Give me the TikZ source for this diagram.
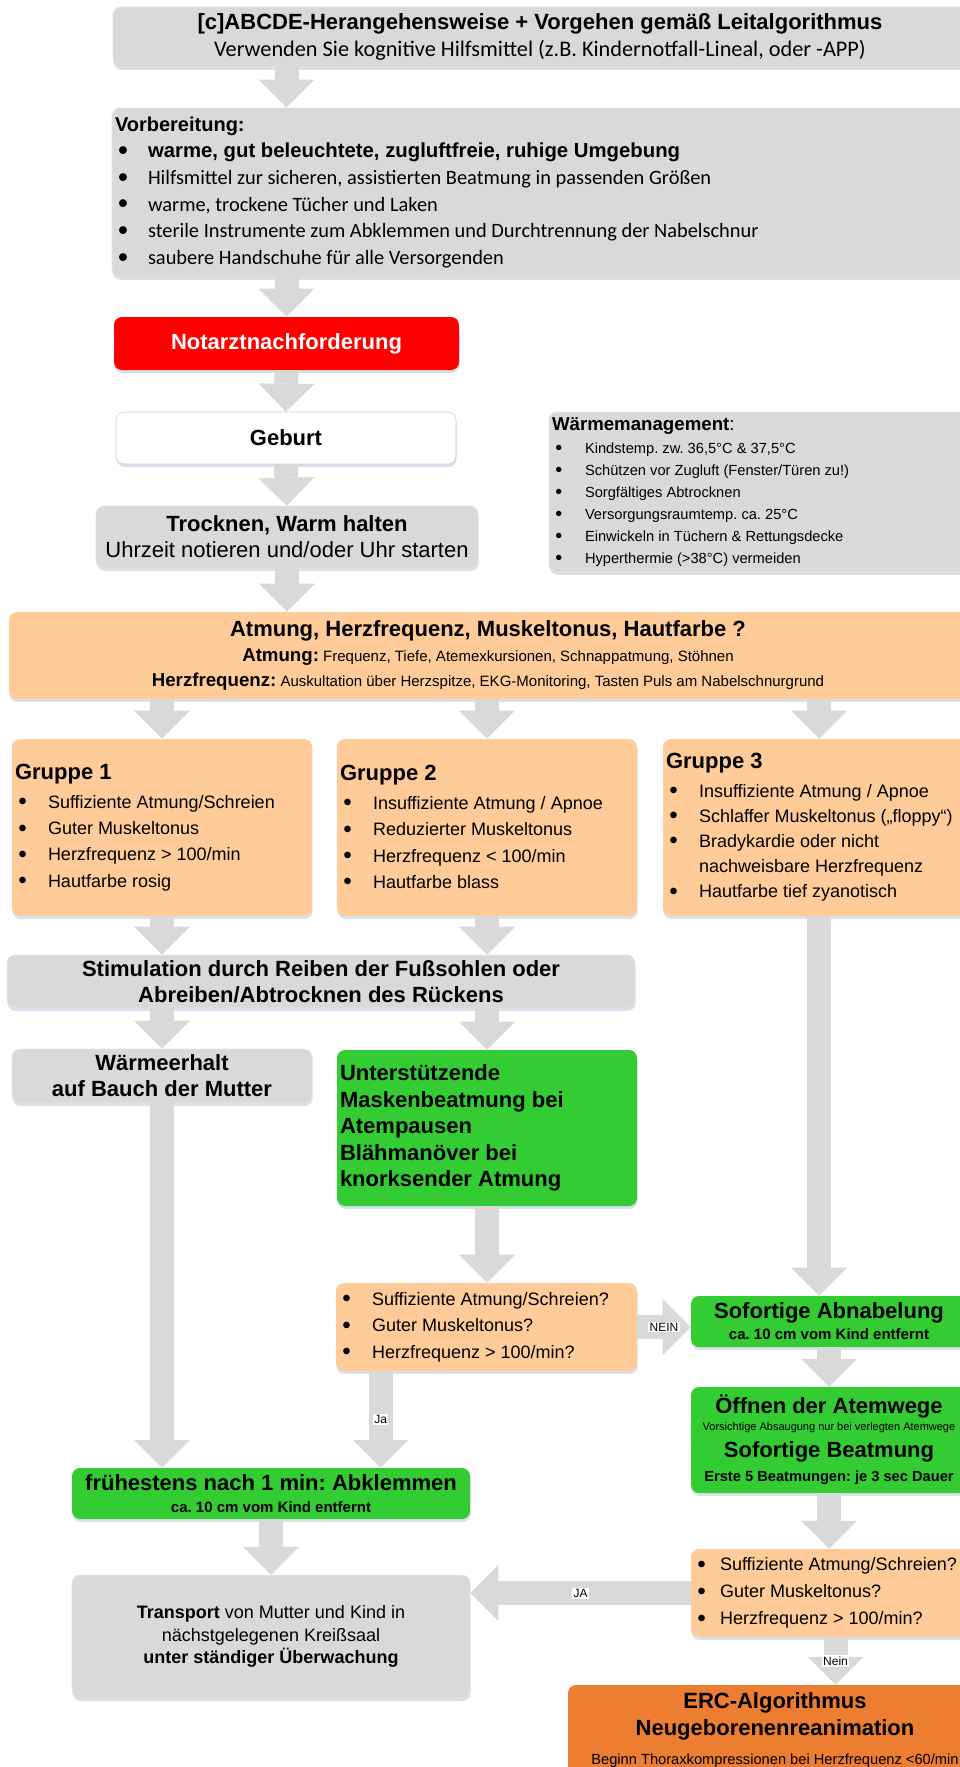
\documentclass[tikz,border=0pt]{standalone}
\usepackage{graphicx}
\usepackage{fontspec}
\setmainfont{Liberation Sans}
\newfontfamily\calibri{Carlito}
\usetikzlibrary{arrows.meta,calc,shadows}
\tikzset{>={Triangle[length=21pt,width=42pt,line width=0pt]}}
\frenchspacing

\definecolor{boxgrey}{HTML}{D9D9D9}
\definecolor{arrowgrey}{HTML}{D9D9D9}
\definecolor{lightorange}{HTML}{FFCC99}
\definecolor{okgreen}{HTML}{33CC33}
\definecolor{alarmred}{HTML}{FF0000}
\definecolor{ercorange}{HTML}{ED7D31}
\definecolor{shadowblue}{HTML}{C9D3E3}

% word spaces of the current font, without stretch
\newcommand\fixspace{\spaceskip=\fontdimen2\font\xspaceskip=0pt\relax}
% font sizes, 1px = 0.75pt
\newcommand\fs[2]{\fontsize{#1}{#2}\selectfont\fixspace}
\newcommand\fhead{\fs{16.5}{19.5}}
\newcommand\flist{\fs{13.5}{19.75}}
\newcommand\fsmall{\fs{11}{16.5}}
\newcommand\ftiny{\fs{8.25}{10}}
\newcommand\prepfont{\calibri\fs{15.3}{20}}
\newcommand\bul[1][24.75pt]{\makebox[#1][l]{\hspace{2.5pt}\raisebox{-0.08em}{\scalebox{1.35}{\textbullet}}}}
\tikzset{every node/.append style={execute at begin node=\fixspace}}

\tikzstyle{block}    =[rectangle,rounded corners=6pt,draw=none,
                       inner xsep=2.25pt,inner ysep=0pt,
                       drop shadow={shadow xshift=0.5pt,shadow yshift=-2.2pt,fill=shadowblue,opacity=0.7}]
\tikzstyle{greybox}  =[block,fill=boxgrey,draw=black!10,line width=0.4pt]
\tikzstyle{orangebox}=[block,fill=lightorange]
\tikzstyle{greenbox} =[block,fill=okgreen]
\tikzstyle{group}    =[orangebox,align=left,font=\flist,
                       minimum width=225pt,minimum height=132.75pt,text width=220.5pt]
\tikzstyle{bigarrow} =[->,draw=arrowgrey,line width=18pt]
\tikzstyle{tag}      =[fill=white,inner sep=1pt,font=\fs{9}{10}]

\begin{document}
\begin{tikzpicture}[x=0.75pt,y=-0.75pt]
  \path[use as bounding box] (0,0) rectangle (960,1767);
  \clip (0,0) rectangle (960,1767);

  % preparation chain
  \node[greybox,align=center,font=\fs{16.5}{20.25}\bfseries,
        minimum width=640.5pt,minimum height=45pt,text width=636pt] (abcde) at (540,37)
    {[c]ABCDE-Herangehensweise + Vorgehen gemäß Leitalgorithmus\\
     {\calibri\mdseries\fs{16.7}{20.25}Verwenden Sie kognitive Hilfsmittel (z.B. Kindernotfall-Lineal, oder -APP)}};
  \node[greybox,align=left,font=\fs{15}{20}\bfseries,
        minimum width=641.25pt,minimum height=126.75pt,text width=636.75pt] (prep) at (539.5,192.5)
    {Vorbereitung:\\
     \bul{\fs{15.25}{20}warme, gut beleuchtete, zugluftfreie, ruhige Umgebung}\\
     \bul{\mdseries\prepfont Hilfsmittel zur sicheren, assistierten Beatmung in passenden Größen}\\
     \bul{\mdseries\prepfont warme, trockene Tücher und Laken}\\
     \bul{\mdseries\prepfont sterile Instrumente zum Abklemmen und Durchtrennung der Nabelschnur}\\
     \bul{\mdseries\prepfont saubere Handschuhe für alle Versorgenden}};
  \node[block,fill=alarmred,text=white,align=center,font=\fhead\bfseries,
        minimum width=258.75pt,minimum height=39.75pt,text width=254.25pt] (notarzt) at (286.5,343.5)
    {Notarztnachforderung};
  \node[block,fill=white,draw=black!20,line width=0.4pt,align=center,font=\fhead\bfseries,
        minimum width=255pt,minimum height=39pt,text width=250.5pt] (geburt) at (286,438)
    {Geburt};
  \node[greybox,align=center,font=\fhead,
        minimum width=286.5pt,minimum height=46.5pt,text width=282pt] (dry) at (287,537)
    {{\bfseries\fixspace Trocknen, Warm halten}\\Uhrzeit notieren und/oder Uhr starten};
  \node[greybox,align=left,font=\fsmall,
        minimum width=313.5pt,minimum height=120pt,text width=309pt] (warm) at (758,492)
    {{\fs{14}{16.5}\textbf{Wärmemanagement}:}\\[0.75pt]
     \bul Kindstemp. zw. 36,5°C \& 37,5°C\\
     \bul Schützen vor Zugluft (Fenster/Türen zu!)\\
     \bul Sorgfältiges Abtrocknen\\
     \bul Versorgungsraumtemp. ca. 25°C\\
     \bul Einwickeln in Tüchern \& Rettungsdecke\\
     \bul Hyperthermie (>38°C) vermeiden};

  % assessment and groups
  \node[orangebox,align=center,font=\fs{11.25}{18.5},
        minimum width=718.5pt,minimum height=65.25pt,text width=714pt] (vitals) at (488,655.5)
    {{\bfseries\fhead Atmung, Herzfrequenz, Muskeltonus, Hautfarbe ?}\\
     {\bfseries\fs{14}{16}Atmung:} Frequenz, Tiefe, Atemexkursionen, Schnappatmung, Stöhnen\\
     {\bfseries\fs{14}{16}Herzfrequenz:} Auskultation über Herzspitze, EKG-Monitoring, Tasten Puls am Nabelschnurgrund};
  \node[group] (g1) at (162,827.5)
    {{\bfseries\fhead Gruppe 1}\\[2pt]
     \bul Suffiziente Atmung/Schreien\\
     \bul Guter Muskeltonus\\
     \bul Herzfrequenz > 100/min\\
     \bul Hautfarbe rosig};
  \node[group] (g2) at (487,827.5)
    {{\bfseries\fhead Gruppe 2}\\[2pt]
     \bul Insuffiziente Atmung / Apnoe\\
     \bul Reduzierter Muskeltonus\\
     \bul Herzfrequenz < 100/min\\
     \bul Hautfarbe blass};
  \node[group,font=\fs{13.5}{18.9},
        minimum width=234pt,text width=229.5pt] (g3) at (819,827.5)
    {{\bfseries\fhead Gruppe 3}\\[2.25pt]
     \bul Insuffiziente Atmung / Apnoe\\
     \bul Schlaffer Muskeltonus („floppy“)\\
     \bul Bradykardie oder nicht\\
     \hspace*{24.75pt}nachweisbare Herzfrequenz\\
     \bul Hautfarbe tief zyanotisch};

  % groups 1 and 2
  \node[greybox,align=center,font=\fhead\bfseries,
        minimum width=471pt,minimum height=39.75pt,text width=466.5pt] (stim) at (321,981.5)
    {Stimulation durch Reiben der Fußsohlen oder\\Abreiben/Abtrocknen des Rückens};
  \node[greybox,align=center,font=\fhead\bfseries,
        minimum width=225pt,minimum height=40.5pt,text width=220.5pt] (keep) at (162,1076)
    {Wärmeerhalt\\auf Bauch der Mutter};
  \node[greenbox,align=left,font=\fs{16.5}{19.9}\bfseries,
        minimum width=225pt,minimum height=117pt,text width=220.5pt] (mask) at (487,1128)
    {Unterstützende\\Maskenbeatmung bei\\Atempausen\\Blähmanöver bei\\knorksender Atmung};
  \node[orangebox,align=left,font=\fs{13.5}{19.9},
        minimum width=225.75pt,minimum height=66pt,text width=221.25pt] (recheck) at (486.5,1327)
    {\bul Suffiziente Atmung/Schreien?\\
     \bul Guter Muskeltonus?\\
     \bul Herzfrequenz > 100/min?};
  \node[greenbox,align=center,font=\fs{16.5}{16.5}\bfseries,
        minimum width=298.5pt,minimum height=38.25pt,text width=294pt] (abklemmen) at (271,1493.5)
    {frühestens nach 1 min: Abklemmen\\{\fs{11.25}{12}ca. 10 cm vom Kind entfernt}};
  \node[greybox,align=center,font=\fs{13.5}{16.9},
        minimum width=298.5pt,minimum height=92.25pt,text width=294pt] (transport) at (271,1636.5)
    {{\bfseries\fixspace Transport} von Mutter und Kind in\\nächstgelegenen Kreißsaal\\
     {\bfseries\fixspace unter ständiger Überwachung}};

  % group 3
  \node[greenbox,align=center,font=\fs{16.5}{15.75}\bfseries,
        minimum width=207pt,minimum height=38.25pt,text width=202.5pt] (abnabeln) at (829,1321.5)
    {Sofortige Abnabelung\\{\fs{11.25}{12}ca. 10 cm vom Kind entfernt}};
  \node[greenbox,align=center,font=\fs{16.5}{18}\bfseries,
        minimum width=207pt,minimum height=79.5pt,text width=202.5pt] (atemwege) at (829,1440)
    {Öffnen der Atemwege\\[-5.25pt]
     {\mdseries\ftiny Vorsichtige Absaugung nur bei verlegten Atemwege}\\[2.25pt]
     Sofortige Beatmung\\
     {\fs{11}{12}Erste 5 Beatmungen: je 3 sec Dauer}};
  \node[orangebox,align=left,font=\fs{13.5}{20.25},
        minimum width=216.75pt,minimum height=66pt,text width=212.25pt] (recheck2) at (835.5,1593)
    {\bul[19.5pt]Suffiziente Atmung/Schreien?\\
     \bul[19.5pt]Guter Muskeltonus?\\
     \bul[19.5pt]Herzfrequenz > 100/min?};
  \node[block,fill=ercorange,align=center,font=\fs{16.5}{20.25}\bfseries,
        minimum width=310.5pt,minimum height=67.5pt,text width=306pt] (erc) at (775,1730)
    {ERC-Algorithmus\\Neugeborenenreanimation\\[1.5pt]
     {\mdseries\fs{11}{12}Beginn Thoraxkompressionen bei Herzfrequenz <60/min}};

  % block arrows
  \draw[bigarrow] (abcde.south -| notarzt) -- (prep.north -| notarzt);
  \draw[bigarrow] (prep.south -| notarzt) -- (notarzt.north);
  \draw[bigarrow] (notarzt.south) -- (geburt.north);
  \draw[bigarrow] (geburt.south) -- (dry.north);
  \draw[bigarrow] (dry.south) -- (vitals.north -| dry.south);
  \foreach \g in {g1,g2,g3}
    \draw[bigarrow] (vitals.south -| \g.north) -- (\g.north);
  \draw[bigarrow] (g1.south) -- (stim.north -| g1.south);
  \draw[bigarrow] (g2.south) -- (stim.north -| g2.south);
  \draw[bigarrow] (stim.south -| keep.north) -- (keep.north);
  \draw[bigarrow] (stim.south -| mask.north) -- (mask.north);
  \draw[bigarrow] (keep.south) -- (abklemmen.north -| keep.south);
  \draw[bigarrow] (mask.south) -- (recheck.north -| mask.south);
  \draw[bigarrow] (g3.south) -- (abnabeln.north -| g3.south);
  \draw[bigarrow] (recheck.east) -- (abnabeln.west |- recheck.east) node[tag,midway] {NEIN};
  \coordinate (ja) at ($(recheck.south west)+(45,0)$);
  \draw[bigarrow] (ja) -- (abklemmen.north -| ja) node[tag,midway] {Ja};
  \draw[bigarrow] (abnabeln.south) -- (atemwege.north);
  \draw[bigarrow] (atemwege.south) -- (recheck2.north -| atemwege.south);
  \draw[bigarrow] (abklemmen.south) -- (transport.north);
  \draw[bigarrow] (recheck2.west) -- (transport.east |- recheck2.west) node[tag,midway] {JA};
  \draw[bigarrow] (recheck2.south) -- (erc.north -| recheck2.south) node[tag,midway] {Nein};
\end{tikzpicture}
\end{document}
